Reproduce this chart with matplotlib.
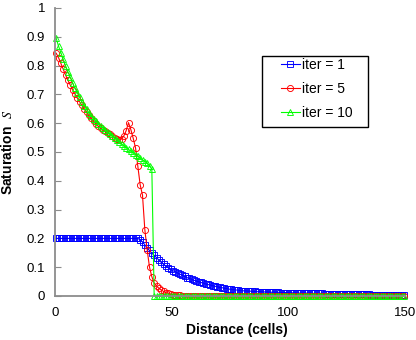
import numpy as np
import matplotlib
matplotlib.use('Agg')
import matplotlib.pyplot as plt
from matplotlib.patches import Rectangle

# cell centres along the 150-cell domain
cells = np.arange(150) + 0.5

# saturation after 1 iteration
sat_iter1 = [0.2] * 36 + [
    0.195, 0.188, 0.178, 0.166, 0.158, 0.149, 0.141, 0.133, 0.125, 0.117,
    0.110, 0.104, 0.098, 0.093, 0.088, 0.084, 0.080, 0.076, 0.072, 0.068,
    0.064, 0.061, 0.058, 0.055, 0.052, 0.050, 0.047, 0.045, 0.042, 0.040,
    0.038, 0.036, 0.034, 0.032, 0.030, 0.029, 0.027, 0.026, 0.024, 0.023,
    0.022, 0.021, 0.020, 0.019, 0.018, 0.018, 0.017, 0.017, 0.016, 0.016,
    0.015, 0.015, 0.015, 0.014, 0.014, 0.014, 0.013, 0.013, 0.013, 0.013,
    0.012, 0.012, 0.012, 0.012, 0.011, 0.011, 0.011, 0.011, 0.010, 0.010,
    0.010, 0.010, 0.010, 0.010, 0.009, 0.009, 0.009, 0.009, 0.009, 0.008,
    0.008, 0.008, 0.008, 0.008, 0.008, 0.007, 0.007, 0.007, 0.007, 0.007,
    0.007, 0.006, 0.006, 0.006, 0.006, 0.006, 0.006, 0.006, 0.006, 0.005,
    0.005, 0.005, 0.005, 0.005, 0.005, 0.005, 0.005, 0.005, 0.005, 0.005,
    0.004, 0.004, 0.004, 0.004]

# saturation after 5 iterations
sat_iter5 = [
    0.843, 0.828, 0.808, 0.787, 0.768, 0.750, 0.733, 0.717, 0.702, 0.688,
    0.675, 0.662, 0.650, 0.638, 0.627, 0.617, 0.607, 0.598, 0.590, 0.583,
    0.577, 0.572, 0.567, 0.562, 0.556, 0.550, 0.545, 0.542, 0.545, 0.556,
    0.574, 0.602, 0.578, 0.548, 0.515, 0.450, 0.386, 0.350, 0.230, 0.160,
    0.100, 0.067, 0.045, 0.035, 0.027, 0.021, 0.016, 0.012, 0.009, 0.007,
    0.005, 0.004, 0.003, 0.002, 0.001, 0.001] + [0.0] * 94

# saturation after 10 iterations
sat_iter10 = [
    0.895, 0.868, 0.845, 0.822, 0.800, 0.779, 0.760, 0.741, 0.723, 0.706,
    0.690, 0.675, 0.661, 0.648, 0.636, 0.625, 0.615, 0.606, 0.598, 0.591,
    0.584, 0.577, 0.570, 0.563, 0.556, 0.549, 0.542, 0.535, 0.528, 0.521,
    0.515, 0.509, 0.503, 0.497, 0.491, 0.485, 0.479, 0.473, 0.467, 0.461,
    0.452, 0.440] + [0.0] * 108

labels = ['iter = 1', 'iter = 5', 'iter = 10']
x_ticks = [0, 50, 100, 150]
y_ticks = [0, 0.1, 0.2, 0.3, 0.4, 0.5, 0.6, 0.7, 0.8, 0.9, 1]


def main():
    plt.rcParams['font.family'] = ['Liberation Sans', 'DejaVu Sans']
    plt.rcParams['mathtext.fontset'] = 'stix'

    fig = plt.figure(figsize=(4.16, 3.4), dpi=100)
    ax = fig.add_axes([55 / 416, 44 / 340, 350 / 416, 288 / 340])

    styles = [('#0000ff', 's'), ('#ff0000', 'o'), ('#00ff00', '^')]
    series = [sat_iter1, sat_iter5, sat_iter10]
    for (col, mk), sat, lab in zip(styles, series, labels):
        ax.plot(cells, sat, color=col, lw=0.8, marker=mk, markersize=4.4,
                markerfacecolor='none', markeredgewidth=0.65, label=lab,
                clip_on=False)

    ax.set_xlim(0, 150)
    ax.set_ylim(0, 1)
    ax.set_xticks(x_ticks)
    ax.set_yticks(y_ticks)
    ax.set_yticklabels([f'{v:g}' for v in y_ticks])

    for side in ['top', 'right']:
        ax.spines[side].set_visible(False)
    for side in ['left', 'bottom']:
        ax.spines[side].set_color('#8c8c8c')
        ax.spines[side].set_linewidth(1.3)
    ax.tick_params(axis='y', direction='in', length=4, width=0.8,
                   color='#8c8c8c', labelsize=9.5, pad=7)
    ax.tick_params(axis='x', length=0, labelsize=9.5, pad=8)

    ax.set_xlabel('Distance (cells)', fontsize=10, fontweight='bold')
    ax.xaxis.set_label_coords(0.519, -0.095)
    ax.set_ylabel(r'Saturation  $S$', fontsize=10, fontweight='bold')
    ax.yaxis.set_label_coords(-0.115, 0.5)

    # legend box drawn separately to get the wide side padding
    ax.legend(loc='upper left', bbox_to_anchor=(0.645, 0.826), frameon=False,
              fontsize=10, handlelength=1.4, handletextpad=0.1,
              labelspacing=0.7, borderpad=0.0, borderaxespad=0.0)
    ax.add_patch(Rectangle((0.59, 0.586), 0.303, 0.247, transform=ax.transAxes,
                           fill=False, edgecolor='black', lw=1.0, zorder=5))

    fig.savefig('out.png', dpi=100)


if __name__ == "__main__":
    main()
